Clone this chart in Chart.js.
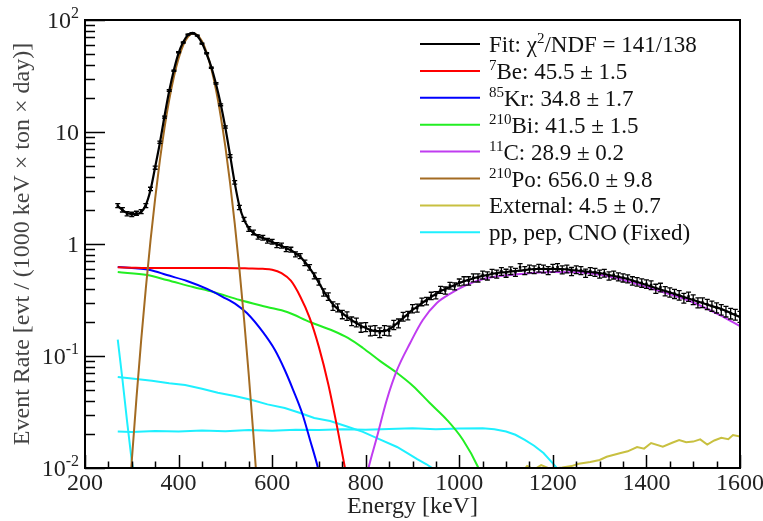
<!DOCTYPE html>
<html><head><meta charset="utf-8">
<script src="https://cdn.jsdelivr.net/npm/chart.js@4/dist/chart.umd.min.js"></script>
<style>html,body{margin:0;padding:0;background:#fff}</style>
</head><body>
<canvas id="c" width="763" height="521"></canvas>
<script>
// ---------- data ----------
const dataEnergy = [270,280,290,300,310,320,330,340,350,360,370,380,390,400,410,420,430,440,450,460,470,480,490,500,510,520,530,540,550,560,570,580,590,600,
610,620,630,640,650,660,670,680,690,700,710,720,730,740,750,760,770,780,790,800,810,820,830,840,850,860,870,880,890,900,910,920,930,940,950,960,970,980,990,1000,
1010,1020,1030,1040,1050,1060,1070,1080,1090,1100,1110,1120,1130,1140,1150,1160,1170,1180,1190,1200,1210,1220,1230,1240,1250,1260,1270,1280,1290,1300,
1310,1320,1330,1340,1350,1360,1370,1380,1390,1400,1410,1420,1430,1440,1450,1460,1470,1480,1490,1500,1510,1520,1530,1540,1550,1560,1570,1580,1590,1600];
const dataRate = [2.20,2.02,1.86,1.84,1.88,1.95,2.20,3.10,4.80,8.10,13.6,23.5,35.2,51.5,63.0,74.0,76.0,72.5,61.5,50.5,37.5,27.2,17.5,11.1,6.10,3.55,2.12,1.66,1.36,1.27,1.16,1.14,1.07,1.05,
0.98,0.97,0.90,0.89,0.81,0.78,0.68,0.62,0.52,0.46,0.37,0.34,0.28,0.27,0.235,0.228,0.205,0.200,0.180,0.182,0.168,0.170,0.162,0.170,0.168,0.190,0.196,0.225,0.230,0.265,0.268,0.305,0.310,0.345,0.350,0.390,0.385,0.425,0.420,0.455,
0.47,0.47,0.50,0.50,0.53,0.52,0.55,0.54,0.57,0.55,0.58,0.56,0.62,0.58,0.60,0.59,0.61,0.60,0.58,0.61,0.62,0.59,0.60,0.57,0.59,0.58,0.55,0.57,0.56,0.54,
0.55,0.52,0.53,0.51,0.50,0.49,0.47,0.46,0.45,0.44,0.43,0.40,0.41,0.38,0.37,0.36,0.35,0.33,0.34,0.32,0.30,0.30,0.29,0.28,0.27,0.26,0.25,0.24,0.235,0.225];
const dataError = [0.09,0.09,0.08,0.08,0.08,0.08,0.09,0.11,0.15,0.2,0.28,0.38,0.48,0.58,0.65,0.7,0.72,0.7,0.65,0.58,0.5,0.42,0.34,0.26,0.18,0.13,0.09,0.07,0.065,0.06,0.055,0.055,0.05,0.05,
0.05,0.05,0.045,0.045,0.042,0.04,0.038,0.035,0.032,0.03,0.028,0.026,0.024,0.022,0.02,0.02,0.018,0.018,0.017,0.017,0.017,0.017,0.016,0.017,0.017,0.018,0.018,0.02,0.02,0.022,0.022,0.024,0.024,0.026,0.026,0.028,0.028,0.03,0.03,0.032,
0.040,0.040,0.041,0.042,0.043,0.043,0.044,0.044,0.045,0.045,0.046,0.046,0.047,0.047,0.047,0.047,0.048,0.048,0.048,0.048,0.048,0.048,0.048,0.047,0.047,0.047,0.046,0.046,0.045,0.045,
0.044,0.044,0.043,0.042,0.042,0.041,0.040,0.040,0.039,0.038,0.038,0.037,0.036,0.036,0.035,0.034,0.034,0.033,0.032,0.032,0.031,0.030,0.030,0.029,0.028,0.028,0.027,0.026,0.026,0.025];

const fitEnergy = [270,280,290,300,310,320,330,340,350,360,370,380,390,400,410,420,430,440,450,460,470,480,490,500,510,520,530,540,550,560,570,580,590,600,610,620,630,640,650,660,670,680,690,700,710,720,730,740,750,760,770,780,790,800,810,820,830,840,850,860,870,880,890,900,910,920,930,940,950,960,970,980,990,1000,
1020,1040,1060,1080,1100,1120,1140,1160,1180,1200,1220,1240,1260,1280,1300,1320,1340,1360,1380,1400,1420,1440,1460,1480,1500,1520,1540,1560,1580,1600];
const fitRate = [2.18,2.01,1.89,1.85,1.85,1.93,2.23,3.03,4.87,7.98,13.9,23.2,35.8,50.7,63.6,73.5,76.6,72.0,62.3,49.7,38.0,26.8,17.8,10.9,6.24,3.51,2.18,1.64,1.39,1.25,1.18,1.13,1.09,1.04,1.00,0.96,0.92,0.88,0.83,0.77,
0.69,0.61,0.53,0.45,0.38,0.33,0.29,0.263,0.242,0.223,0.209,0.197,0.185,0.178,0.171,0.167,0.167,0.167,0.174,0.185,0.201,0.218,0.237,0.258,0.274,0.297,0.316,0.336,0.358,0.38,0.396,0.413,0.431,0.449,
0.478,0.508,0.529,0.551,0.562,0.574,0.586,0.598,0.598,0.598,0.598,0.586,0.574,0.562,0.551,0.529,0.508,0.487,0.458,0.431,0.405,0.38,0.358,0.336,0.316,0.297,0.279,0.263,0.242,0.223];

const be7Energy = [270,300,350,400,450,500,550,580,600,620,640,660,680,700,720,740,760];
const be7Rate   = [0.62,0.615,0.61,0.612,0.61,0.61,0.605,0.60,0.59,0.55,0.47,0.34,0.22,0.12,0.056,0.022,0.008];

const kr85Energy = [270,339,375,418,461,495,525,546,580,606,627,645,664,681,698,710];
const kr85Rate   = [0.624,0.586,0.528,0.468,0.397,0.336,0.285,0.242,0.164,0.113,0.075,0.0497,0.031,0.0178,0.010,0.006];

const bi210Energy = [270,333,375,431,474,531,589,632,681,730,762,794,831,867,901,937,974,1008,1040,1055];
const bi210Rate   = [0.562,0.528,0.477,0.413,0.373,0.316,0.274,0.247,0.201,0.168,0.145,0.118,0.090,0.0705,0.054,0.038,0.0268,0.0178,0.0102,0.007];

const c11Energy = [795,805,824,845,867,895,922,952,980,1016,1059,1130,1201,1273,1343,1414,1487,1557,1600];
const c11Rate   = [0.006,0.0096,0.0189,0.0405,0.075,0.1306,0.2095,0.297,0.358,0.431,0.497,0.539,0.562,0.551,0.487,0.396,0.316,0.232,0.185];

const po210Energy = [290,300,310,320,330,340,350,360,370,380,390,400,410,420,430,440,450,460,470,480,490,500,510,520,530,540,550,560,570,580];
const po210Rate   = [0.0029,0.0116,0.042,0.137,0.402,1.07,2.56,5.57,10.95,19.4,31.2,45.4,59.6,70.7,75.8,73.6,64.5,51.2,36.7,23.8,13.9,7.39,3.54,1.53,0.60,0.213,0.068,0.0197,0.0052,0.0012];

const extEnergy = [1130,1145,1160,1175,1195,1220,1240,1255,1280,1300,1315,1345,1360,1380,1395,1410,1435,1455,1470,1485,1500,1515,1530,1545,1560,1575,1585,1600];
const extRate   = [0.0088,0.0104,0.0097,0.0106,0.0098,0.0101,0.0104,0.0109,0.0113,0.0118,0.0126,0.0136,0.0141,0.0154,0.0149,0.0167,0.0155,0.0168,0.0178,0.0170,0.0172,0.0180,0.0162,0.0176,0.0186,0.0181,0.0197,0.0191];

const ppEnergy = [270,280,290,300,305];
const ppRate   = [0.14,0.062,0.026,0.0115,0.0085];

const pepEnergy = [270,300,350,400,450,500,550,600,650,700,750,800,850,900,950,1000,1050,1075,1100,1120,1140,1160,1180,1200,1215];
const pepRate   = [0.0212,0.0210,0.0214,0.0212,0.0216,0.0213,0.0218,0.0215,0.0219,0.0218,0.0222,0.0220,0.0223,0.0226,0.0222,0.0225,0.0226,0.0222,0.0212,0.0198,0.0178,0.0158,0.0136,0.0110,0.0093];

const cnoEnergy = [270,300,343,380,414,450,484,520,557,590,627,660,690,724,760,794,830,867,890,910,930,945];
const cnoRate   = [0.065,0.063,0.060,0.057,0.055,0.051,0.047,0.044,0.0405,0.037,0.0343,0.031,0.028,0.0263,0.0235,0.021,0.018,0.0154,0.0135,0.012,0.0108,0.0098];

const xTickValues = [200,400,600,800,1000,1200,1400,1600];
const yTickValues = [0.01,0.1,1,10,100];
const yTickBase = ['10','10','1','10','10'];
const yTickExp  = ['-2','-1','','','2'];

const legendLabels = [
  [['Fit: χ',0],['2',1],['/NDF = 141/138',0]],
  [['7',1],['Be: 45.5 ± 1.5',0]],
  [['85',1],['Kr: 34.8 ± 1.7',0]],
  [['210',1],['Bi: 41.5 ± 1.5',0]],
  [['11',1],['C: 28.9 ± 0.2',0]],
  [['210',1],['Po: 656.0 ± 9.8',0]],
  [['External: 4.5 ± 0.7',0]],
  [['pp, pep, CNO (Fixed)',0]]
];

// ---------- styles ----------
const COL = {fit:'#000000', be7:'#ff0000', kr85:'#0000ff', bi210:'#22ee22', c11:'#c03cf0', po210:'#a36b22', ext:'#c8c040', pp:'#1ef0ff'};
const legendColors = [COL.fit, COL.be7, COL.kr85, COL.bi210, COL.c11, COL.po210, COL.ext, COL.pp];
const SERIF = '"Liberation Serif", "Times New Roman", serif';

const pts = (xs, ys) => xs.map((x,i)=>({x:x, y:ys[i]}));
const lineDs = (label, xs, ys, color, smooth, w) => ({
  label, data: pts(xs,ys), borderColor: color, backgroundColor: color, borderWidth: w || 2,
  pointRadius: 0, fill:false, cubicInterpolationMode: smooth ? 'monotone' : 'default', tension: 0
});

const errorBars = {
  id:'errorBars',
  afterDatasetsDraw(chart){
    const {ctx, chartArea:a, scales:{y}} = chart;
    ctx.save();
    ctx.beginPath(); ctx.rect(a.left, a.top, a.right-a.left, a.bottom-a.top); ctx.clip();
    ctx.strokeStyle = '#000'; ctx.lineWidth = 1.3;
    chart.data.datasets.forEach((ds, di) => {
      if (!ds.errors) return;
      const meta = chart.getDatasetMeta(di);
      meta.data.forEach((p, i) => {
        const v = ds.data[i].y, e = ds.errors[i];
        const y1 = y.getPixelForValue(v + e), y2 = y.getPixelForValue(Math.max(v - e, 1e-4));
        ctx.beginPath();
        ctx.moveTo(p.x, y1); ctx.lineTo(p.x, y2);
        ctx.moveTo(p.x-2.5, y1); ctx.lineTo(p.x+2.5, y1);
        ctx.moveTo(p.x-2.5, y2); ctx.lineTo(p.x+2.5, y2);
        ctx.stroke();
      });
    });
    ctx.restore();
  }
};

const frame = {
  id:'frame',
  afterDraw(chart){
    const {ctx, chartArea:a, scales:{x,y}} = chart;
    ctx.save();
    ctx.strokeStyle = '#000';
    ctx.lineWidth = 1.5;
    ctx.beginPath();
    for (let e = 200; e <= 1600; e += 50) {
      const px = Math.round(x.getPixelForValue(e)) + 0.5;
      const len = (e % 200 === 0) ? 13 : 6.5;
      ctx.moveTo(px, a.bottom); ctx.lineTo(px, a.bottom - len);
    }
    for (let d = -2; d <= 1; d++) {
      for (let k = 1; k <= 10; k++) {
        const v = k * Math.pow(10, d);
        const py = Math.round(y.getPixelForValue(v)) + 0.5;
        const len = (k === 1 || k === 10) ? 20 : 10;
        ctx.moveTo(a.left, py); ctx.lineTo(a.left + len, py);
      }
    }
    ctx.stroke();
    ctx.lineWidth = 2;
    ctx.strokeRect(a.left, a.top, a.right - a.left, a.bottom - a.top);
    // y tick labels with exponents
    ctx.fillStyle = '#222';
    ctx.textBaseline = 'alphabetic';
    yTickValues.forEach((v, i) => {
      const py = y.getPixelForValue(v);
      let xr = a.left - 6;
      ctx.textAlign = 'right';
      if (yTickExp[i]) {
        ctx.font = '16px ' + SERIF;
        ctx.fillText(yTickExp[i], xr, py - 2);
        xr -= ctx.measureText(yTickExp[i]).width;
      }
      ctx.font = '24px ' + SERIF;
      ctx.fillText(yTickBase[i], xr, py + 8);
    });
    // legend
    const lx0 = 420, lx1 = 480, tx = 489, y0 = 44, dy = 26.9;
    legendLabels.forEach((parts, i) => {
      const ly = y0 + i * dy;
      ctx.strokeStyle = legendColors[i]; ctx.lineWidth = 2;
      ctx.beginPath(); ctx.moveTo(lx0, ly); ctx.lineTo(lx1, ly); ctx.stroke();
      let cx = tx;
      ctx.textAlign = 'left'; ctx.fillStyle = '#111';
      parts.forEach(([t, sup]) => {
        if (sup) { ctx.font = '15px ' + SERIF; ctx.fillText(t, cx, ly - 1); }
        else { ctx.font = '23px ' + SERIF; ctx.fillText(t, cx, ly + 8); }
        cx += ctx.measureText(t).width;
      });
    });
    ctx.restore();
  }
};

new Chart(document.getElementById('c'), {
  type: 'line',
  data: { datasets: [
    { label:'Data', data: pts(dataEnergy, dataRate), errors: dataError, showLine:false,
      pointStyle:'rect', pointRadius:1.8, pointBorderWidth:0, backgroundColor:'#000', borderColor:'#000' },
    lineDs('Fit', fitEnergy, fitRate, COL.fit, true, 2.2),
    lineDs('11C', c11Energy, c11Rate, COL.c11, true),
    lineDs('210Po', po210Energy, po210Rate, COL.po210, true),
    lineDs('7Be', be7Energy, be7Rate, COL.be7, true),
    lineDs('85Kr', kr85Energy, kr85Rate, COL.kr85, true),
    lineDs('210Bi', bi210Energy, bi210Rate, COL.bi210, true),
    lineDs('External', extEnergy, extRate, COL.ext, false),
    lineDs('pp', ppEnergy, ppRate, COL.pp, false),
    lineDs('pep', pepEnergy, pepRate, COL.pp, false),
    lineDs('CNO', cnoEnergy, cnoRate, COL.pp, false)
  ]},
  options: {
    responsive:false, animation:false, devicePixelRatio:1,
    layout:{ padding:{ top:20, right:23, left:0, bottom:0 } },
    plugins:{ legend:{display:false}, tooltip:{enabled:false} },
    scales:{
      x:{ type:'linear', min:200, max:1600,
        grid:{display:false, drawTicks:false}, border:{display:false},
        afterBuildTicks(s){ s.ticks = xTickValues.map(v=>({value:v})); },
        ticks:{ callback:(v)=>String(v), font:{family:SERIF, size:24}, color:'#222', padding:1, maxRotation:0, autoSkip:false },
        title:{ display:true, text:'Energy [keV]', font:{family:SERIF, size:24}, color:'#222', padding:{top:0, bottom:0} },
        afterFit(s){ s.height = 53; s.paddingLeft = 0; s.paddingRight = 0; } },
      y:{ type:'logarithmic', min:0.01, max:100,
        grid:{display:false, drawTicks:false}, border:{display:false},
        ticks:{display:false},
        title:{ display:true, text:'Event Rate [evt / (1000 keV × ton × day)]', font:{family:SERIF, size:24}, color:'#444', padding:{top:8, bottom:0} },
        afterFit(s){ s.width = 85; s.paddingTop = 0; s.paddingBottom = 0; } }
    }
  },
  plugins:[errorBars, frame]
});
</script>
</body></html>
